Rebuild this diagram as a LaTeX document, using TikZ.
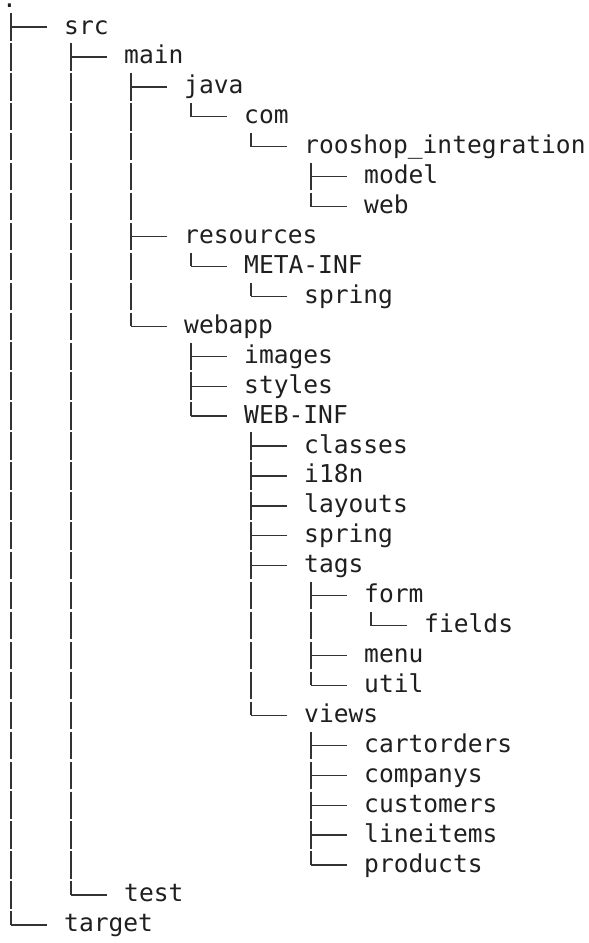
\documentclass[tikz,border=0pt]{standalone}
\usepackage{fontspec}
\newfontfamily\treefont{DejaVu Sans Mono}
\usetikzlibrary{calc}
\newcommand\rh{29.93}
\newcommand\bl{34}% baseline of the first row
% vertical guide from a parent entry down to its last child
\newcommand\vconn[2]{\draw[vline] let \p1=(#1.base west), \p2=(#2.base west) in (\x1+7pt,\y1-9.25pt) -- (\x1+7pt,\y2+7pt);}
% short horizontal stub leading into an entry
\newcommand\hconn[1]{\draw[hline] let \p1=(#1.base west) in (\x1-53pt,\y1+7pt) -- (\x1-17pt,\y1+7pt);}
\begin{document}
\begin{tikzpicture}[x=1pt,y=-1pt,
  item/.style={anchor=base west, inner sep=0pt, font=\treefont\fontsize{24.6}{30}\selectfont, text=black!88},
  hline/.style={line width=1.3pt, draw=black!80},
  vline/.style={line width=1.3pt, draw=black!80, dash pattern=on 27.43pt off 2.5pt}]
\useasboundingbox (0,0) rectangle (589,943);

\node[item] (root)       at (2,   7.5)             {.};
\node[item] (src)        at (64,  {\bl+0*\rh})     {src};
\node[item] (main)       at (124, {\bl+1*\rh})     {main};
\node[item] (java)       at (184, {\bl+2*\rh})     {java};
\node[item] (com)        at (244, {\bl+3*\rh})     {com};
\node[item] (rooshop)    at (304, {\bl+4*\rh})     {rooshop\_integration};
\node[item] (model)      at (364, {\bl+5*\rh})     {model};
\node[item] (web)        at (364, {\bl+6*\rh})     {web};
\node[item] (resources)  at (184, {\bl+7*\rh})     {resources};
\node[item] (metainf)    at (244, {\bl+8*\rh})     {META-INF};
\node[item] (spring1)    at (304, {\bl+9*\rh})     {spring};
\node[item] (webapp)     at (184, {\bl+10*\rh})    {webapp};
\node[item] (images)     at (244, {\bl+11*\rh})    {images};
\node[item] (styles)     at (244, {\bl+12*\rh})    {styles};
\node[item] (webinf)     at (244, {\bl+13*\rh})    {WEB-INF};
\node[item] (classes)    at (304, {\bl+14*\rh})    {classes};
\node[item] (i18n)       at (304, {\bl+15*\rh})    {i18n};
\node[item] (layouts)    at (304, {\bl+16*\rh})    {layouts};
\node[item] (spring2)    at (304, {\bl+17*\rh})    {spring};
\node[item] (tags)       at (304, {\bl+18*\rh})    {tags};
\node[item] (form)       at (364, {\bl+19*\rh})    {form};
\node[item] (fields)     at (424, {\bl+20*\rh})    {fields};
\node[item] (menu)       at (364, {\bl+21*\rh})    {menu};
\node[item] (util)       at (364, {\bl+22*\rh})    {util};
\node[item] (views)      at (304, {\bl+23*\rh})    {views};
\node[item] (cartorders) at (364, {\bl+24*\rh})    {cartorders};
\node[item] (companys)   at (364, {\bl+25*\rh})    {companys};
\node[item] (customers)  at (364, {\bl+26*\rh})    {customers};
\node[item] (lineitems)  at (364, {\bl+27*\rh})    {lineitems};
\node[item] (products)   at (364, {\bl+28*\rh})    {products};
\node[item] (test)       at (124, {\bl+29*\rh})    {test};
\node[item] (target)     at (64,  {\bl+30*\rh})    {target};

% vertical guides
\draw[vline] let \p1=(src.base west), \p2=(target.base west) in (\x1-53pt,\y1+20.75pt) -- (\x1-53pt,\y2+7pt);
\vconn{src}{test}
\vconn{main}{webapp}
\vconn{java}{com}
\vconn{com}{rooshop}
\vconn{rooshop}{web}
\vconn{resources}{metainf}
\vconn{metainf}{spring1}
\vconn{webapp}{webinf}
\vconn{webinf}{views}
\vconn{tags}{util}
\vconn{form}{fields}
\vconn{views}{products}

% horizontal stubs
\hconn{src}\hconn{main}\hconn{java}\hconn{com}\hconn{rooshop}
\hconn{model}\hconn{web}\hconn{resources}\hconn{metainf}\hconn{spring1}
\hconn{webapp}\hconn{images}\hconn{styles}\hconn{webinf}\hconn{classes}
\hconn{i18n}\hconn{layouts}\hconn{spring2}\hconn{tags}\hconn{form}
\hconn{fields}\hconn{menu}\hconn{util}\hconn{views}\hconn{cartorders}
\hconn{companys}\hconn{customers}\hconn{lineitems}\hconn{products}
\hconn{test}\hconn{target}
\end{tikzpicture}
\end{document}
